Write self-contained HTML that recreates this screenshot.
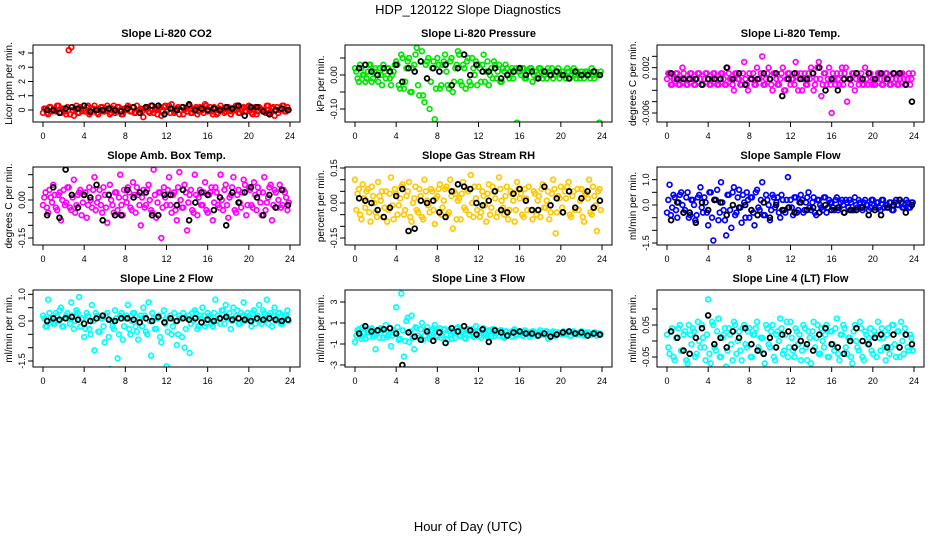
<!DOCTYPE html>
<html><head><meta charset="utf-8"><style>
body{margin:0;background:#fff}
svg{display:block;font-family:"Liberation Sans",Arial,sans-serif}
</style></head><body>
<svg id="chart" width="936" height="540">
<text x="468" y="14" text-anchor="middle" font-size="13">HDP_120122  Slope Diagnostics</text>
<text x="468" y="531" text-anchor="middle" font-size="13">Hour of Day (UTC)</text>
</svg>
<script>
const xTicks = [0,4,8,12,16,20,24];
const titles = ["Slope Li-820 CO2","Slope Li-820 Pressure","Slope Li-820 Temp.","Slope Amb. Box Temp.","Slope Gas Stream RH","Slope Sample Flow","Slope Line 2 Flow","Slope Line 3 Flow","Slope Line 4 (LT) Flow"];
const yTitles = ["Licor ppm per min.","kPa per min.","degrees C per min.","degrees C per min.","percent per min.","ml/min per min.","ml/min per min.","ml/min per min.","ml/min per min."];
const yTicks1=[0,1,2,3,4], yLabels1=["0","1","2","3","4"];
const yTicks2=[-0.10,-0.05,0,0.05], yLabels2=["-0.10","","0.00",""];
const yTicks3=[-0.006,-0.004,-0.002,0,0.002,0.004], yLabels3=["-0.006","","","","0.002",""];
const yTicks4=[-0.15,-0.10,-0.05,0,0.05,0.10], yLabels4=["-0.15","","","0.00","",""];
const yTicks5=[-0.15,-0.10,-0.05,0,0.05,0.10,0.15], yLabels5=["-0.15","","","0.00","","","0.15"];
const yTicks6=[-1.5,-1,-0.5,0,0.5,1], yLabels6=["-1.5","","","0.0","","1.0"];
const yTicks7=[-1.5,-1,-0.5,0,0.5,1], yLabels7=["-1.5","","","0.0","","1.0"];
const yTicks8=[-3,-1,1,3], yLabels8=["-3","-1","1","3"];
const yTicks9=[-0.05,0,0.05,0.10], yLabels9=["-0.05","","0.05",""];

const p1Color=[-0.2,0.1,-0.3,0.2,0,-0.1,0.3,-0.2,0.1,-0.3,4.2,4.4,-0.4,0.3,-0.2,0.1,-0.1,0.2,-0.3,0.1,
0.3,-0.2,0,0.2,-0.1,0.3,-0.3,0.1,-0.2,0.2,0,-0.3,0.1,0.3,-0.1,0.2,-0.2,0,0.1,-0.5,
0.2,-0.1,0.3,-0.2,0,0.1,-0.4,0.2,-0.1,0.3,0.4,-0.2,0.1,-0.3,0.2,0,-0.1,0.3,-0.2,0.1,
-0.3,0.2,0,0.4,-0.1,0.2,-0.3,0.1,-0.2,0.3,0,-0.1,0.2,-0.3,0.1,0.3,-0.2,0,0.2,-0.1,
0.3,-0.2,0.1,-0.3,0.2,0,-0.1,0.3,-0.2,0.1,-0.4,0.2,0,0.3,-0.1,0.2];
const p1ColorB=[0.1,-0.2,0.2,-0.1,0,0.3,-0.2,0.1,-0.1,0.2,-0.3,0,0.1,-0.2,0.2,0,-0.1,0.3,-0.2,0.1,0,-0.3,0.2,-0.1,0.1,0,-0.2,0.3,-0.1,0.2,-0.3,0.1,0,0.2,-0.1,-0.2,0.3,0,-0.1,0.1,0.2,-0.2,0,0.1,-0.3,0.2,-0.1,0.3,0,-0.2,0.1,-0.1,0.2,0,-0.3,0.1,0.3,-0.2,0,0.2,-0.1,0.1,-0.2,0.3,0,-0.1,0.2,-0.3,0.1,0,-0.2,0.2,0.1,-0.1,0,0.3,-0.2,0.1,-0.1,0.2,0,-0.3,0.2,-0.1,0.1,0,-0.2,0.3,-0.1,0.2,0,-0.2,0.1,0.3,-0.1,0];
const p1Black=[0,0,-0.2,0.1,0.2,0.1,0.3,-0.1,0,0,0.1,0,-0.1,0.1,0.2,-0.2,0.2,0.3,0.3,-0.3,0.1,0,0.2,0.4,0,0.1,0,0.1,0,0.2,0.1,0.3,-0.4,0.2,0.2,-0.1,-0.3,0,0.1,0];
const p2Color=[0.02,-0.01,0.03,0,-0.02,0.01,0.03,-0.01,0.02,-0.02,0,0.03,-0.01,0.02,-0.03,0.01,
0.04,-0.03,0.06,-0.04,0.02,0.05,-0.05,0.03,0.08,-0.06,0.07,-0.08,0.04,-0.1,0.02,-0.13,
0.05,-0.04,0.03,0.06,-0.03,0.04,-0.05,0.02,0.07,-0.02,0.03,-0.04,0.05,-0.03,0.02,0.04,
0.03,-0.02,0.06,0.01,-0.03,0.02,0.04,-0.01,0.03,-0.02,0.01,0.02,-0.01,0.02,0.01,-0.14,
0.01,0.02,-0.01,0.01,0.02,-0.02,0.01,0,0.02,-0.01,0.01,0.02,0,-0.01,0.01,0.02,
0,0.01,-0.01,0.01,0,0.02,-0.01,0,0.01,-0.01,0.01,0,0.02,-0.01,0,-0.14];
const p2ColorB=[0.01,-0.02,0.02,0,-0.01,0.03,-0.02,0.01,0,0.02,-0.03,0.01,0.02,-0.01,0,0.03,
0.03,-0.04,0.05,-0.02,0.04,-0.05,0.02,0.06,-0.03,0.04,-0.06,0.03,0.05,-0.02,0.04,-0.04,
0.03,-0.03,0.04,0.01,-0.04,0.05,-0.02,0.03,0.06,-0.03,0.02,0.04,-0.02,0.05,0,-0.03,
0.02,0.03,-0.02,0.04,0,-0.01,0.03,0.01,-0.02,0.02,0.03,0,0.01,-0.01,0.02,0.01,
0,0.02,-0.01,0.01,0.02,0,-0.01,0.02,0.01,0,-0.01,0.01,0.02,0,0.01,-0.01,
0.01,0,0.02,-0.01,0.01,0,0.01,-0.01,0,0.01,0.01,-0.01,0,0.01,0,0.01];
const p2Black=[0.02,0.03,0.01,0,0.02,0.01,0.03,-0.02,0.02,0.01,0.04,-0.01,0.02,0.01,0.03,-0.03,0.02,0.06,0,0.03,0.01,0.01,0.02,-0.01,0,0.01,0.02,0,0.01,-0.01,0.01,0,0.01,0,-0.01,0.01,0,0,0.01,0];
const p3Color=[0,0.001,-0.001,0,0.001,-0.001,0.002,0,-0.001,0.001,0,-0.001,0.001,0,-0.001,0.001,
0,-0.001,0.001,0,-0.001,0.001,0,-0.001,0.001,0,-0.002,0.001,0,-0.001,0.003,-0.001,
0.001,0,-0.001,0.002,0,0.004,-0.001,0.001,0,-0.002,0.001,-0.001,0,0.002,-0.002,0.001,
-0.001,0,0.003,-0.002,0.001,0,-0.001,0.001,0.002,-0.002,0,0.003,-0.003,0.001,-0.001,0.002,
-0.006,0,0.001,-0.001,0.002,0.001,-0.004,0,0.001,-0.002,0.001,0,-0.001,0.002,-0.001,0.001,
0,-0.001,0.001,0,-0.001,0.001,0,-0.001,0.001,0,-0.001,0.001,0,-0.001,0.001,0];
const p3ColorB=[0.001,-0.001,0,0.001,-0.001,0,0.001,-0.001,0,0.001,-0.001,0,0.001,-0.001,0,0.001,
-0.001,0,0.001,-0.001,0,0.001,-0.001,0.002,0,-0.001,0.001,0,-0.001,0.001,0,-0.002,
0,0.001,-0.001,0,0.001,-0.001,0,0.002,-0.001,0.001,0,-0.001,0.001,-0.002,0,0.001,
0,-0.001,0.001,0,-0.002,0.001,-0.001,0,0.001,-0.001,0.002,0,-0.001,0.001,0,-0.001,
0.001,-0.001,0,0.001,-0.001,0.002,0,-0.001,0.001,0,-0.001,0.001,-0.001,0,0.001,-0.001,
-0.001,0,0.001,-0.001,0,0.001,-0.001,0,0.001,-0.001,0,0.001,-0.001,0,-0.001,0.001];
const p3Black=[0.001,0,0,0,0,-0.001,0,0,0,0.002,0,0.001,-0.001,0,0,0.001,0,0.001,-0.003,0,0.001,0,0,0.001,0.002,-0.002,0,-0.002,0,0,0.001,0,0.001,0,0.001,0,0.001,0.001,-0.001,-0.004];
const p4Color=[-0.02,0.03,-0.05,0.01,0.06,-0.03,0.02,-0.08,0.04,-0.01,0.05,-0.04,0.08,-0.02,0.03,-0.06,
0.02,-0.07,0.05,-0.03,0.09,-0.01,0.04,-0.05,0.02,-0.09,0.06,-0.02,0.03,-0.04,0.1,-0.06,
0.01,0.05,-0.03,0.07,-0.05,0.02,-0.1,0.04,-0.02,0.06,-0.04,0.12,-0.07,0.03,-0.15,0.05,
-0.02,0.09,-0.05,0.03,-0.08,0.11,-0.03,0.06,-0.12,0.02,-0.04,0.1,-0.06,0.04,-0.02,0.07,
-0.05,0.03,-0.08,0.05,-0.02,0.1,-0.04,0.06,-0.07,0.02,0.09,-0.05,0.04,-0.03,0.08,-0.06,
0.05,-0.02,0.07,-0.04,0.03,-0.06,0.09,-0.01,0.05,-0.08,0.04,-0.03,0.06,-0.02,0.03,-0.04];
const p4ColorB=[0.01,-0.03,0.04,-0.01,0.02,-0.04,0.03,0,-0.02,0.05,-0.03,0.01,-0.05,0.02,0.04,-0.01,
0.03,-0.02,0,0.04,-0.04,0.01,-0.02,0.05,-0.03,0.02,0,-0.05,0.03,0.01,-0.02,0.04,
-0.01,0.03,-0.04,0.02,0.05,-0.02,0.01,-0.03,0.04,0,-0.05,0.02,-0.01,0.03,-0.03,0.01,
0.04,-0.02,0.02,-0.04,0.05,0,-0.03,0.03,-0.01,0.04,-0.05,0.02,0.01,-0.02,0.03,-0.04,
0.02,0.05,-0.01,0.03,-0.03,0,0.04,-0.02,0.01,0.05,-0.04,0.02,-0.01,0.03,0.06,-0.02,
0.04,-0.03,0.02,0.05,-0.01,0.03,-0.04,0.01,0.06,-0.02,0.03,0,-0.03,0.04,0.01,-0.01];
const p4Black=[-0.06,0.05,-0.07,0.12,0.02,-0.03,0.02,0.01,0.06,-0.08,0.02,-0.06,-0.06,0.04,0.01,0.03,0.03,-0.06,-0.06,0.02,0.02,-0.02,0.04,-0.08,-0.01,0.03,0.02,-0.04,0.01,-0.1,0.03,-0.01,0.03,0.05,0.01,-0.06,0.02,-0.03,0.04,-0.02];
const p5Color=[0.1,0.04,-0.05,0.08,-0.02,0.06,-0.08,0.03,-0.04,0.09,0.01,-0.06,0.05,-0.03,0.11,-0.07,
0.04,-0.01,0.07,-0.05,0.03,0.09,-0.08,0.02,-0.03,0.06,-0.06,0.1,0.01,-0.04,0.05,-0.09,
0.03,0.08,-0.02,0.06,-0.05,0.1,-0.11,0.04,0.01,-0.07,0.09,-0.03,0.05,0.12,-0.06,0.02,
0.07,-0.04,0.03,-0.08,0.08,-0.02,0.05,-0.06,0.11,0.01,-0.05,0.07,-0.03,0.04,-0.08,0.09,
0.02,-0.05,0.06,-0.03,0.18,-0.07,0.04,0.01,-0.06,0.08,-0.02,0.05,-0.04,0.1,-0.13,0.03,
0.07,-0.04,0.02,0.09,-0.06,0.05,0.18,-0.03,0.06,-0.08,0.04,0.1,-0.05,0.03,-0.12,0.06];
const p5ColorB=[-0.03,0.06,-0.07,0.02,0.05,-0.04,0.07,0,-0.06,0.03,0.05,-0.02,-0.08,0.04,-0.01,0.06,
-0.05,0.02,0.08,-0.03,0.05,-0.06,0,0.07,-0.04,0.03,-0.07,0.05,-0.01,0.06,-0.03,0.02,
0.06,-0.05,0.01,0.07,-0.04,0.03,0.05,-0.07,0.02,0.04,-0.02,0.06,-0.05,0,0.07,-0.03,
-0.06,0.05,-0.01,0.04,-0.05,0.07,0.02,-0.04,0.06,-0.02,0.03,-0.07,0.05,0.01,-0.03,0.06,
0.04,-0.06,0.02,0.07,-0.03,0.05,-0.05,0.03,0.06,-0.02,0.01,-0.07,0.04,0.06,-0.04,0.02,
-0.02,0.05,0.07,-0.05,0.03,-0.03,0.06,0.01,-0.06,0.04,0.02,-0.04,0.07,-0.01,0.05,-0.03];
const p5Black=[0.02,0.01,0,-0.03,-0.06,-0.02,0.03,0.06,-0.12,-0.11,0.01,0,0.01,-0.04,-0.06,0.05,0.08,0.07,0.06,0,-0.01,0.01,0.05,-0.03,-0.04,0.04,0.06,0.01,-0.03,-0.03,0.07,-0.01,0.02,-0.04,0.05,-0.02,0.02,0.05,-0.02,0.01];
const p6Color=[-0.3,0.8,-0.1,0.3,-0.5,0.4,0,-0.2,0.5,-0.4,0.2,-0.6,0.3,0.7,-0.3,0.1,
-0.8,0.5,-1.4,0.2,-0.6,0.9,-0.2,-1.2,0.4,-0.9,0.7,-0.3,0.6,-0.7,0.1,0.5,
-0.5,0.3,-0.8,0.6,-0.2,0.9,-0.4,0.2,-0.6,0.4,-0.1,0.3,-0.5,0.2,-0.3,1.1,
0.2,-0.4,0.3,-0.2,0.4,-0.3,0.1,0.5,-0.2,0.3,-0.4,0.2,-0.1,0.3,-0.3,0.2,
0.1,-0.2,0.3,-0.1,0.2,-0.3,0.1,0.2,-0.2,0.3,-0.1,0.1,-0.2,0.2,0,-0.1,
0.2,-0.1,0.1,-0.2,0.2,0,-0.1,0.1,-0.2,0.2,0,0.1,-0.1,0.2,-0.1,0.1];
const p6ColorB=[0.2,-0.4,0.4,-0.2,0.1,0.5,-0.3,0.3,-0.5,0.2,0,-0.4,0.4,-0.1,0.3,-0.3,
0.5,-0.5,0.2,0.6,-0.3,0.1,-0.6,0.4,-0.2,0.5,-0.4,0.3,-0.1,0.4,-0.5,0.2,
0.3,-0.3,0.5,-0.1,0.2,-0.4,0.4,0,-0.2,0.3,0.1,-0.3,0.4,-0.2,0.2,-0.1,
-0.1,0.3,-0.3,0.1,0.2,-0.2,0.3,-0.1,0.1,-0.3,0.2,0,-0.2,0.3,-0.1,0.1,
-0.1,0.2,-0.2,0.1,0,0.2,-0.1,0.1,-0.2,0,0.2,-0.1,0.1,0,-0.2,0.2,
0,0.1,-0.1,0.2,-0.1,0,0.1,-0.2,0.1,0,0.2,-0.1,0,0.1,-0.1,0.1];
const p6Black=[-0.6,0.1,-0.3,-0.3,-0.7,0.1,-0.2,0.2,0.1,-0.4,0,-0.1,0,-0.2,-0.4,0.1,-0.5,0,-0.2,-0.1,-0.3,0.1,-0.2,-0.1,-0.3,0,-0.2,-0.1,-0.3,-0.2,-0.2,-0.1,-0.4,-0.2,-0.4,-0.1,0,0.2,-0.3,0];
const p7Color=[0.2,-0.2,0.8,0.1,-0.1,0.3,0,0.5,-0.2,0.2,0.1,0.7,-0.3,0.4,0.9,0.1,
-0.6,0.3,-0.3,0.6,-1.1,0.2,-0.4,0.1,-0.8,0.3,-1.8,-0.2,0.4,-1.4,0.2,-0.7,
0.1,0.6,-0.5,0.3,-0.2,-0.7,0.2,0.5,-0.4,0.7,-1.3,0.1,-0.3,0.2,-0.8,0.4,
-1.7,0.1,-0.5,0.3,-0.9,0.2,-0.6,-1.0,0.1,-1.2,0.3,0.4,-0.3,0.2,0.5,-0.2,
0.3,0.1,-0.2,0.8,0.2,-0.1,0.4,0.6,0.1,-0.3,0.5,0.2,-0.1,0.3,0.7,0.1,
0.2,-0.2,0.4,0.1,0.6,-0.1,0.3,0.8,0.2,-0.2,0.5,0.1,0.3,-0.1,0.2,0.4];
const p7ColorB=[0.1,-0.2,0.3,0,-0.1,0.2,0.4,-0.2,0.1,0.3,-0.1,0.2,0,0.3,-0.2,0.1,
-0.3,0.2,-0.5,0,0.3,-0.4,0.1,-0.2,0.2,-0.6,0,-0.3,0.1,-0.5,0.3,-0.2,
0.2,-0.3,0,0.3,-0.4,0.1,-0.2,0.2,-0.5,0,0.3,-0.3,0.1,-0.6,0.2,-0.1,
-0.4,0.2,-0.2,0,-0.5,0.1,0.3,-0.3,0.2,-0.1,0,0.3,-0.2,0.1,0.2,-0.1,
0.2,-0.1,0.3,0,0.1,0.4,-0.1,0.2,0.3,0,0.1,0.4,-0.1,0.2,0,0.3,
0.1,0.3,-0.1,0.2,0,0.4,0.1,-0.1,0.3,0.2,0,0.3,-0.1,0.1,0.2,0];
const p7Black=[0,0.1,0.05,0.1,0.15,0.05,-0.1,0,0.1,0.2,0.05,0,0.1,0.1,0.05,-0.05,0.1,0,0.15,-0.05,0.1,0,0.1,0.05,0.1,-0.05,0.05,0,0.1,0.15,0.05,0.1,0.05,0,0.1,0.05,0.1,0.05,0,0.05];
const p8Color=[-0.8,0.3,-0.2,0.6,-0.5,0.1,0.4,-0.3,-1.5,0.2,0.5,-0.4,0.8,-0.1,-1.2,0.3,
2.5,-0.6,3.8,-2.2,1.2,-0.8,1.7,-1.5,0.5,-0.4,1.0,-0.2,0.6,-0.5,0.3,0.8,
-0.3,0.5,-0.2,0.4,-0.6,0.3,0.1,-0.4,0.6,-0.2,0.3,-0.5,0.4,0.1,-0.3,0.7,
0.2,-0.4,0.5,-0.1,0.3,-0.3,0.4,0,-0.2,0.3,-0.4,0.2,0.1,-0.3,0.4,-0.1,
0.2,-0.2,0.3,0,-0.3,0.2,0.1,-0.2,0.3,-0.1,0.2,-0.5,0.1,0.2,-0.2,0.1,
0,0.2,-0.1,0.1,-0.2,0.2,0,-0.1,0.2,-0.2,0.1,0,-0.1,0.1,-0.2,0];
const p8ColorB=[-0.2,0.4,-0.5,0.1,0.3,-0.3,0.5,-0.1,0.2,-0.4,0.4,0,-0.3,0.5,-0.2,0.1,
0.6,-0.5,0.3,-0.7,1.5,0.2,-0.4,0.6,-0.2,0.4,-0.6,0.3,0,-0.3,0.5,-0.2,
0.2,-0.4,0.4,-0.1,0.3,-0.5,0.2,0.5,-0.2,0.1,-0.4,0.3,-0.1,0.4,-0.3,0.2,
-0.2,0.3,0,-0.3,0.2,0.4,-0.2,0.1,0.3,-0.3,0.2,-0.1,0,0.3,-0.2,0.1,
0,-0.2,0.2,0.1,-0.1,0.2,-0.2,0.1,0,-0.1,0.2,-0.1,0.1,-0.2,0.1,0,
-0.1,0.1,0,-0.2,0.1,0,-0.1,0.1,-0.1,0,0.1,-0.1,0,0.1,0,-0.1];
const p8Black=[0,0.7,0.2,0.3,0.4,0.5,0,-3,0.1,-0.3,-0.6,0.2,-0.7,0.1,-0.9,0.5,0.2,0.7,0.3,-0.1,0.4,-0.8,0.3,0.1,-0.2,0.1,0.2,0,0,-0.2,0,-0.3,-0.1,0.1,0.2,0,0.1,-0.2,0,-0.1];
const p9Color=[0.02,-0.04,0.04,-0.06,0.01,0.05,-0.03,0.03,-0.07,0.02,0.04,-0.05,0.06,-0.02,0.01,-0.06,
0.13,-0.07,0.05,-0.03,0.07,-0.05,0.02,-0.08,0.04,-0.01,0.06,-0.04,0.03,-0.06,0.05,-0.02,
0.04,-0.05,0.02,0.06,-0.03,0.01,-0.07,0.04,-0.02,0.05,-0.06,0.03,0.07,-0.04,0.02,-0.05,
0.06,-0.03,0.04,-0.01,-0.06,0.05,-0.02,0.03,-0.07,0.06,0.01,-0.04,0.04,-0.02,0.05,-0.05,
0.03,-0.03,0.07,-0.06,0.02,0.04,-0.04,0.01,-0.07,0.05,-0.02,0.06,-0.05,0.03,-0.01,0.04,
-0.04,0.02,0.06,-0.03,0.01,-0.06,0.04,-0.02,0.05,-0.05,0.03,0.06,-0.04,0.02,-0.03,0.01];
const p9ColorB=[-0.02,0.03,-0.05,0.01,0.04,-0.03,0.02,-0.06,0.05,-0.01,0.03,-0.04,0,0.05,-0.02,0.02,
-0.04,0.06,-0.02,0.03,-0.05,0.01,0.04,-0.03,0.02,-0.06,0.05,0,-0.03,0.04,-0.01,0.03,
-0.05,0.02,0.04,-0.02,0.01,-0.04,0.05,-0.01,0.03,-0.05,0.02,0,0.04,-0.03,0.06,-0.02,
0.01,-0.05,0.03,0.02,-0.03,0.04,-0.06,0.01,0.03,-0.02,0.05,-0.04,0,0.02,-0.05,0.03,
-0.01,0.04,-0.04,0.02,0.05,-0.02,0.01,-0.05,0.03,0,-0.03,0.04,-0.06,0.02,0.01,-0.03,
0.03,-0.05,0.01,0.04,-0.02,0.02,-0.04,0.05,-0.01,0.03,-0.05,0,0.04,-0.02,0.02,-0.03];
const p9Black=[0.03,0.01,-0.03,-0.04,0.01,0.04,0.08,-0.01,0.01,-0.02,0.03,0.01,0.04,-0.01,-0.03,-0.04,0.01,-0.02,0.02,0.03,-0.02,0,-0.01,-0.03,0.02,0.04,-0.01,-0.02,-0.04,0,0.04,0,-0.01,0.01,0.02,-0.02,0.02,-0.02,0.02,-0.01];

const NS="http://www.w3.org/2000/svg";
const svg=document.getElementById('chart');
function mk(tag,at,parent){const e=document.createElementNS(NS,tag);for(const k in at)e.setAttribute(k,at[k]);(parent||svg).appendChild(e);return e;}
const colX=[[33,300,43,290],[345,612,355,602],[657,924,667,914]];
const rowY=[[45,122],[167,245],[290,367]];
const yScale=[[0,110,4,53],[0,75,-0.1,109],[0,79,-0.006,113],[0,200,-0.15,238],[0,203,-0.15,238],[0,205,-1.5,243],[0,321,-1.5,361],[-3,365,3,302],[0,341,-0.05,357]];
const colors=["#ff0000","#00e600","#ff00ff","#ff00ff","#ffc800","#0000ff","#00ffff","#00ffff","#00ffff"];
const colorData=[p1Color,p2Color,p3Color,p4Color,p5Color,p6Color,p7Color,p8Color,p9Color];
const colorDataB=[p1ColorB,p2ColorB,p3ColorB,p4ColorB,p5ColorB,p6ColorB,p7ColorB,p8ColorB,p9ColorB];
const blackData=[p1Black,p2Black,p3Black,p4Black,p5Black,p6Black,p7Black,p8Black,p9Black];
const yT=[yTicks1,yTicks2,yTicks3,yTicks4,yTicks5,yTicks6,yTicks7,yTicks8,yTicks9];
const yL=[yLabels1,yLabels2,yLabels3,yLabels4,yLabels5,yLabels6,yLabels7,yLabels8,yLabels9];
for(let p=0;p<9;p++){
  const c=colX[p%3], r=rowY[Math.floor(p/3)], s=yScale[p];
  const xf=v=>c[2]+(c[3]-c[2])*v/24;
  const yf=v=>s[1]+(v-s[0])*(s[3]-s[1])/(s[2]-s[0]);
  const g=mk('g',{});
  
  
  const cid='clip'+p;
  const cp=mk('clipPath',{id:cid},g); mk('rect',{x:c[0],y:r[0],width:c[1]-c[0],height:r[1]-r[0]},cp);
  const t=mk('text',{x:(c[0]+c[1])/2,y:r[0]-8,'text-anchor':'middle','font-size':11,'font-weight':'bold'},g);
  t.textContent=titles[p];
  
  
  const yt=mk('text',{x:0,y:0,'text-anchor':'middle','font-size':10,transform:`translate(${c[0]-21},${(r[0]+r[1])/2}) rotate(-90)`},g);
  yt.textContent=yTitles[p];
  
  
  const pts=mk('g',{'clip-path':`url(#${cid})`},g);
  colorData[p].forEach((v,i)=>{
    const m=mk('circle',{cx:xf(i*0.25),cy:yf(v),r:2.4,fill:'none',stroke:colors[p],'stroke-width':1.7},pts);
    
    
  });
  colorDataB[p].forEach((v,i)=>{
    const m=mk('circle',{cx:xf(0.125+i*0.25),cy:yf(v),r:2.4,fill:'none',stroke:colors[p],'stroke-width':1.7},pts);
    
    
  });
  blackData[p].forEach((v,i)=>{
    const m=mk('circle',{cx:xf(0.4+i*0.6),cy:yf(v),r:2.4,fill:'none',stroke:'#000','stroke-width':1.8},pts);
    
    
  });
  const box=mk('rect',{x:c[0],y:r[0],width:c[1]-c[0],height:r[1]-r[0],fill:'none',stroke:'#000','stroke-width':1},g);
  
  
  xTicks.forEach(v=>{
    const x=xf(v);
    mk('line',{x1:x,x2:x,y1:r[1],y2:r[1]+5,stroke:'#000'},g);
    const l=mk('text',{x:x,y:r[1]+17,'text-anchor':'middle','font-size':9},g);
    l.textContent=String(v);
    
    
  });
  yT[p].forEach((v,i)=>{
    const y=yf(v);
    mk('line',{x1:c[0]-5,x2:c[0],y1:y,y2:y,stroke:'#000'},g);
    if(yL[p][i]){
      const l=mk('text',{x:0,y:0,'text-anchor':'middle','font-size':9,transform:`translate(${c[0]-8},${y}) rotate(-90)`},g);
      l.textContent=yL[p][i];
      
      
    }
  });
}
</script>
</body></html>
